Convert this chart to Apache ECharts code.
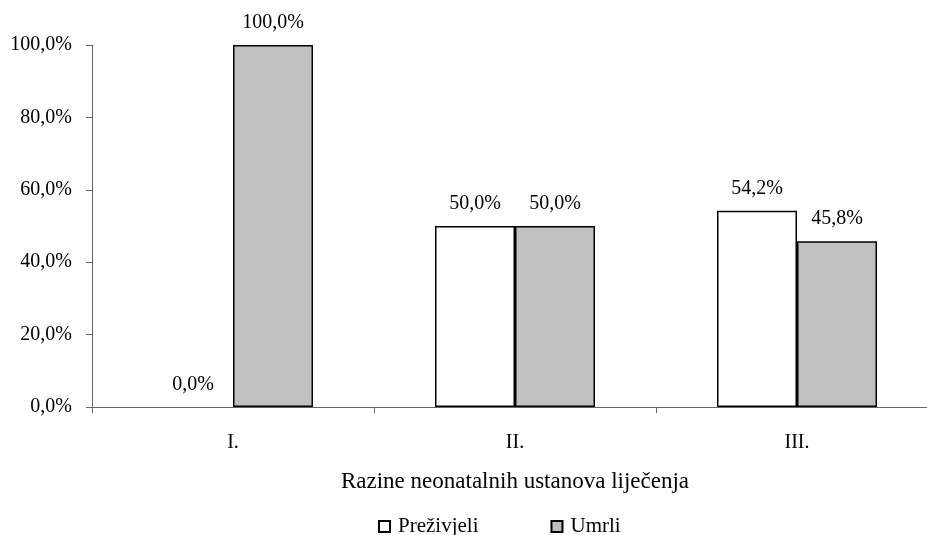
<!DOCTYPE html>
<html>
<head>
<meta charset="utf-8">
<script src="https://cdn.jsdelivr.net/npm/echarts@6/dist/echarts.min.js"></script>
<style>
  html, body { margin: 0; padding: 0; background: #fff; overflow: hidden; }
  /* plot runs past the right edge of the picture, as in the original */
  #chart { width: 938px; height: 535px; }
</style>
</head>
<body>
<div id="chart"></div>
<script>
// podaci
const categories = ['I.', 'II.', 'III.']
const prezivjeli = [0.0, 50.0, 54.2]
const umrli = [100.0, 50.0, 45.8]
const yTicks = [0, 20, 40, 60, 80, 100]

const font = 'Liberation Serif'
const fmt = v => v.toFixed(1).replace('.', ',') + '%'

// stupac s vrijednosti 0 ne crta rub
const noZeroBorder = arr => arr.map(v => v === 0 ? { value: v, itemStyle: { borderWidth: 0 } } : v)

const chart = echarts.init(document.getElementById('chart'))

const labelStyle = {
    show: true,
    position: 'top',
    distance: 12,
    color: '#000',
    fontFamily: font,
    fontSize: 20,
    formatter: p => fmt(p.value)
}

const option = {
    animation: false,
    textStyle: { fontFamily: font },
    grid: {
        left: 92,
        right: 0,
        top: 45,
        bottom: 128
    },
    legend: {
        left: 373,
        top: 511,
        itemWidth: 11,
        itemHeight: 11,
        itemGap: 72,
        icon: 'rect',
        textStyle: { fontFamily: font, fontSize: 21, color: '#000', padding: [0, 0, 0, 3] },
        data: ['Preživjeli', 'Umrli']
    },
    xAxis: {
        type: 'category',
        data: categories,
        name: 'Razine neonatalnih ustanova liječenja',
        nameLocation: 'middle',
        nameGap: 63,
        nameTextStyle: { fontFamily: font, fontSize: 23, color: '#000' },
        axisLine: { lineStyle: { color: '#666', width: 1 } },
        axisTick: { show: true, length: 6, lineStyle: { color: '#666' } },
        axisLabel: { fontFamily: font, fontSize: 20, color: '#000', margin: 26 }
    },
    yAxis: {
        type: 'value',
        min: yTicks[0],
        max: yTicks[yTicks.length - 1],
        interval: 20,
        splitLine: { show: false },
        axisLine: { show: true, lineStyle: { color: '#666', width: 1 } },
        axisTick: { show: true, length: 6, lineStyle: { color: '#666' } },
        axisLabel: {
            fontFamily: font,
            fontSize: 20,
            color: '#000',
            margin: 20,
            formatter: v => fmt(v)
        }
    },
    series: [
        {
            name: 'Preživjeli',
            type: 'bar',
            barWidth: 80,
            barGap: '0%',
            data: noZeroBorder(prezivjeli),
            itemStyle: { color: '#ffffff', borderColor: '#000', borderWidth: 1.5 },
            label: labelStyle
        },
        {
            name: 'Umrli',
            type: 'bar',
            barWidth: 80,
            barGap: '0%',
            data: noZeroBorder(umrli),
            itemStyle: { color: '#c0c0c0', borderColor: '#000', borderWidth: 1.5 },
            label: labelStyle
        }
    ]
}

chart.setOption(option)
window.addEventListener('resize', () => {
    chart.resize()
})
</script>
</body>
</html>
